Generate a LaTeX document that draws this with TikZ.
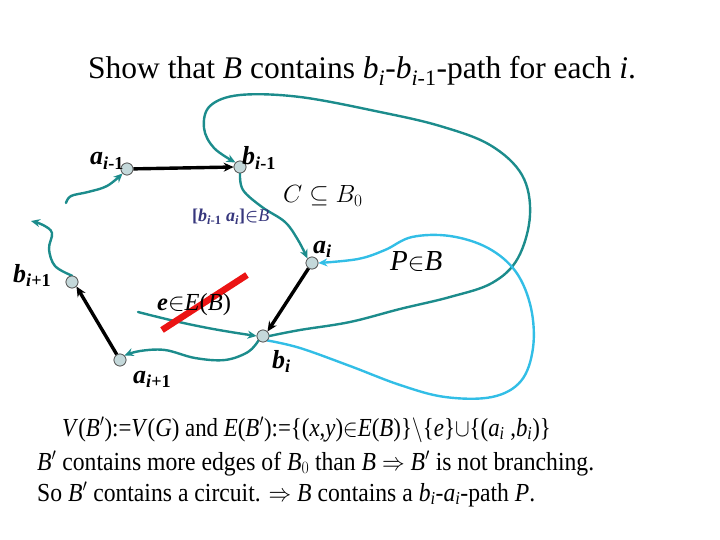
\documentclass[tikz,border=0pt]{standalone}
\usepackage{amsmath}
\usepackage{graphicx}
\usepackage{fontspec}
\setmainfont{Liberation Serif}
\usetikzlibrary{arrows.meta}
\definecolor{tealc}{RGB}{28,140,140}
\definecolor{skyc}{RGB}{50,190,230}
\definecolor{nodef}{RGB}{196,216,218}
\definecolor{lblc}{RGB}{55,55,125}
\definecolor{redc}{RGB}{235,20,20}
\begin{document}
\begin{tikzpicture}[x=1pt,y=-1pt,
 vtx/.style={circle,draw=gray!70!black,fill=nodef,minimum size=12pt,inner sep=0pt,line width=0.7pt},
 tl/.style={draw=tealc,line width=2.4pt,line cap=round,-{Stealth[length=9pt,width=8pt]}},
 sl/.style={draw=skyc,line width=2.4pt,line cap=round,-{Stealth[length=9pt,width=8pt]}},
 bl/.style={draw=black,line width=3.4pt,-{Stealth[length=10pt,width=9pt]}},
 vlab/.style={font=\fontsize{26}{28}\selectfont\bfseries\itshape,inner sep=0pt,anchor=base west},
 txt/.style={font=\fontsize{31.5}{34}\selectfont,inner sep=0pt,anchor=base west},
 btxt/.style={font=\fontsize{26}{28}\selectfont,inner sep=0pt,anchor=base west},
]
\useasboundingbox (0,0) rectangle (720,540);

% vertices
\node[vtx] (aim1) at (127,169) {};
\node[vtx] (bim1) at (240,167) {};
\node[vtx] (ai)   at (312,263) {};
\node[vtx] (bi)   at (263,336) {};
\node[vtx] (aip1) at (120,360) {};
\node[vtx] (bip1) at (72,282) {};
\coordinate (es) at (138,312);
\coordinate (lt) at (31,221);
\coordinate (ls) at (66,203);

% teal curves
\draw[tl] plot[smooth,tension=0.6] coordinates {(bim1.south) (243,190) (262,207) (285,222) (298,240) (ai.north west)};
\draw[tl] plot[smooth,tension=0.6] coordinates {(bi.east) (300,330) (350,322) (400,309) (450,297) (492,283) (518,258) (530,215) (522,175) (490,145) (440,126) (380,112) (300,97) (240,95) (210,106) (204,128) (214,148) (bim1.north west)};
\draw[sl] plot[smooth,tension=0.6] coordinates {(bi.south east) (300,348) (350,366) (400,385) (445,397) (492,397) (521,381) (533,348) (531,308) (516,272) (488,248) (450,236) (412,237) (385,250) (358,259) (ai.east)};
\draw[tl] plot[smooth,tension=0.6] coordinates {(bi.south west) (248,352) (225,360) (195,358) (165,350) (140,351) (aip1.north east)};
\draw[tl] (es) to[bend right=3] (bi.west);
\draw[tl] plot[smooth,tension=0.6] coordinates {(bip1.north) (55,266) (49,249) (52,233) (43,225) (lt)};
\draw[tl] plot[smooth,tension=0.6] coordinates {(ls) (71,196) (88,192) (107,186) (aim1.south west)};

% black arrows
\draw[bl] (aim1) -- (bim1.west);
\draw[bl] (ai) -- (bi.north east);
\draw[bl] (aip1) -- (bip1.south east);

% red cut
\draw[redc,line width=6.5pt] (162,330) -- (247,275);

% redraw vertices on top
\foreach \v in {aim1,bim1,ai,bi,aip1,bip1}{\node[vtx] at (\v) {};}

% vertex labels
\node[vlab] (laim1) at (90,165) {a$_{\text{i}\textup{-1}}$};
\node[vlab] (lbim1) at (242,165) {b$_{\text{i}\textup{-1}}$};
\node[vlab] (lai) at (313,253) {a$_{\text{i}}$};
\node[vlab] (lbi) at (272,368) {b$_{\text{i}}$};
\node[vlab] (laip1) at (133,383) {a$_{\text{i}\textup{+1}}$};
\node[vlab] (lbip1) at (13,282) {b$_{\text{i}\textup{+1}}$};

% other labels
\node[inner sep=0pt,anchor=base west,text=lblc,font=\fontsize{18}{20}\selectfont] (lbl) at (192,222)
  {\textbf{[\textit{b}$_{\text{\textbf{\textit{i}}}\textbf{-1}}$ \textit{a}$_{\text{\textbf{\textit{i}}}}$]}$\boldsymbol{\in}$\textit{B}};
\node[inner sep=0pt,anchor=base west,font=\fontsize{26}{30}\selectfont] (lc) at (283,203) {$C\subseteq B_0$};
\node[inner sep=0pt,anchor=base west,font=\fontsize{29}{32}\selectfont] (lp) at (390,270) {\textit{P}$\in$\textit{B}};
\node[inner sep=0pt,anchor=base west,font=\fontsize{24.5}{28}\selectfont] (le) at (157,310) {\textbf{\textit{e}}$\in$\textit{E}(\textit{B})};

% title
\node[txt] (title) at (88,79) {Show that \textit{B} contains \textit{b}$_{\text{\textit{i}}}$-\textit{b}$_{\text{\textit{i}-1}}$-path for each \textit{i}.};

% bottom text
\node[btxt] (l1) at (62,436) {\scalebox{0.88}[1]{\textit{V}(\textit{B}$'$):=\textit{V}(\textit{G}) and \textit{E}(\textit{B}$'$):=\{(\textit{x},\textit{y})$\in$\textit{E}(\textit{B})\}$\backslash$\{\textit{e}\}$\cup$\{(\textit{a}$_{\text{\textit{i}}}$ ,\textit{b}$_{\text{\textit{i}}}$)\}}};
\node[btxt] (l2) at (37,470) {\scalebox{0.91}[1]{\textit{B}$'$ contains more edges of \textit{B}$_{0}$ than \textit{B} $\Rightarrow$ \textit{B}$'$ is not branching.}};
\node[btxt] (l3) at (37,501) {\scalebox{0.91}[1]{So \textit{B}$'$ contains a circuit. $\Rightarrow$ \textit{B} contains a \textit{b}$_{\text{\textit{i}}}$-\textit{a}$_{\text{\textit{i}}}$-path \textit{P}.}};
\end{tikzpicture}
\end{document}
